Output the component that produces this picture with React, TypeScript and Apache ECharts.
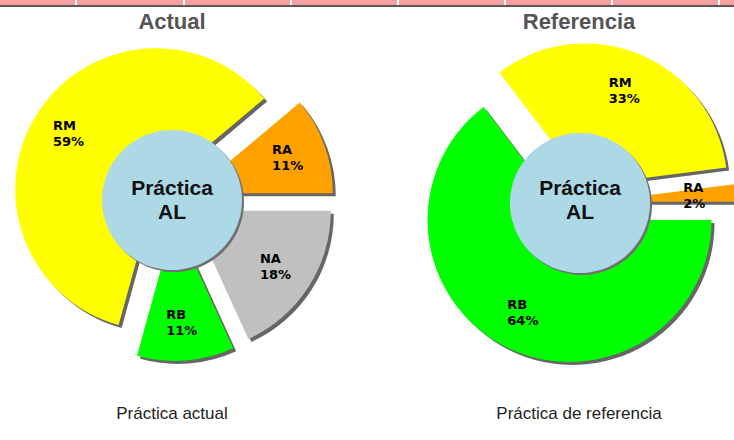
import React, { useEffect, useRef } from 'react';
import * as echarts from 'echarts';

const actualNames = ['NA', 'RB', 'RM', 'RA'];
const actualValues = [18, 11, 59, 11];
const referenceNames = ['RB', 'RM', 'RA'];
const referenceValues = [64, 33, 2];
const chartTitles = ['Actual', 'Referencia'];
const captions = ['Práctica actual', 'Práctica de referencia'];
const centerText = 'Práctica\nAL';
const stripSeparators = [76, 184, 291, 398, 505, 612, 719];

const sliceColors: Record<string, string> = {
  RM: '#FFFF00',
  RA: '#FFA200',
  NA: '#C0C0C0',
  RB: '#00FF00',
};

type Kind = 'shadow' | 'fill' | 'label';

function makeSeries(names: string[], values: number[], cx: number, cy: number, R: number, off: number) {
  const data = (kind: Kind) =>
    names.map((n, i) => ({
      name: n,
      value: values[i],
      selected: true,
      itemStyle: {
        color: kind === 'shadow' ? '#666666' : kind === 'label' ? 'rgba(0,0,0,0)' : sliceColors[n],
        borderWidth: 0,
      },
    }));
  const base: any = {
    type: 'pie',
    selectedMode: 'multiple',
    selectedOffset: off,
    startAngle: 0,
    clockwise: true,
    silent: true,
    animation: false,
    avoidLabelOverlap: false,
    labelLine: { show: false },
    emphasis: { disabled: true },
    select: { itemStyle: { borderWidth: 0 } },
  };
  const labelR0 = 200 - R;
  const labelStyle = {
    show: true,
    position: 'inner',
    formatter: '{t|{b}}\n{t|{c}%}',
    rotate: 0,
    rich: {
      t: {
        width: 33,
        align: 'left',
        fontFamily: 'DejaVu Sans',
        fontWeight: 'bold',
        fontSize: 13,
        lineHeight: 16,
        color: '#000',
      },
    },
  };
  return [
    { ...base, z: 2, center: [cx + 3, cy + 3], radius: [0, R], label: { show: false }, data: data('shadow') },
    { ...base, z: 3, center: [cx, cy], radius: [0, R], label: { show: false }, data: data('fill') },
    {
      ...base,
      z: 10,
      center: [cx, cy],
      radius: [labelR0, R],
      label: labelStyle,
      data: data('label'),
    },
  ];
}

export default function App() {
  const ref = useRef<HTMLDivElement>(null);
  useEffect(() => {
    if (!ref.current) return;
    const chart = echarts.init(ref.current, undefined, { renderer: 'svg' });
    const circles = [
      { cx: 172, cy: 200 },
      { cx: 580, cy: 203 },
    ];
    const graphic: any[] = [
      { type: 'rect', z: 100, shape: { x: 0, y: 0, width: 734, height: 5 }, style: { fill: '#f5a0a0' } },
      { type: 'line', z: 100, shape: { x1: 0, y1: 6, x2: 734, y2: 6 }, style: { stroke: '#222', lineWidth: 1.5 } },
      ...stripSeparators.map((x) => ({
        type: 'line',
        z: 101,
        shape: { x1: x, y1: 0, x2: x, y2: 5 },
        style: { stroke: '#ffffff', lineWidth: 2 },
      })),
    ];
    circles.forEach((c, i) => {
      graphic.push(
        { type: 'circle', z: 100, shape: { cx: c.cx + 2, cy: c.cy + 2, r: 70 }, style: { fill: '#707070' } },
        { type: 'circle', z: 101, shape: { cx: c.cx, cy: c.cy, r: 70 }, style: { fill: '#ADD8E6' } },
        {
          type: 'text',
          z: 102,
          x: c.cx,
          y: 199,
          style: {
            text: centerText,
            fill: '#111',
            font: 'bold 21px "Liberation Sans", Arial, sans-serif',
            lineHeight: 24,
            align: 'center',
            verticalAlign: 'middle',
          },
        },
        {
          type: 'text',
          z: 102,
          x: i === 0 ? 172 : 579,
          y: 21,
          style: {
            text: chartTitles[i],
            fill: '#555',
            font: 'bold 22px "Liberation Sans", Arial, sans-serif',
            align: 'center',
            verticalAlign: 'middle',
          },
        },
        {
          type: 'text',
          z: 102,
          x: i === 0 ? 172 : 579,
          y: 413,
          style: {
            text: captions[i],
            fill: '#222',
            font: '17px "Liberation Sans", Arial, sans-serif',
            align: 'center',
            verticalAlign: 'middle',
          },
        }
      );
    });
    chart.setOption({
      animation: false,
      backgroundColor: '#ffffff',
      series: [
        ...makeSeries(actualNames, actualValues, 173, 200, 141, 20),
        ...makeSeries(referenceNames, referenceValues, 578, 203, 142, 19),
      ],
      graphic,
    });
    return () => chart.dispose();
  }, []);
  return <div ref={ref} style={{ position: 'fixed', left: 0, top: 0, width: 734, height: 440 }} />;
}
